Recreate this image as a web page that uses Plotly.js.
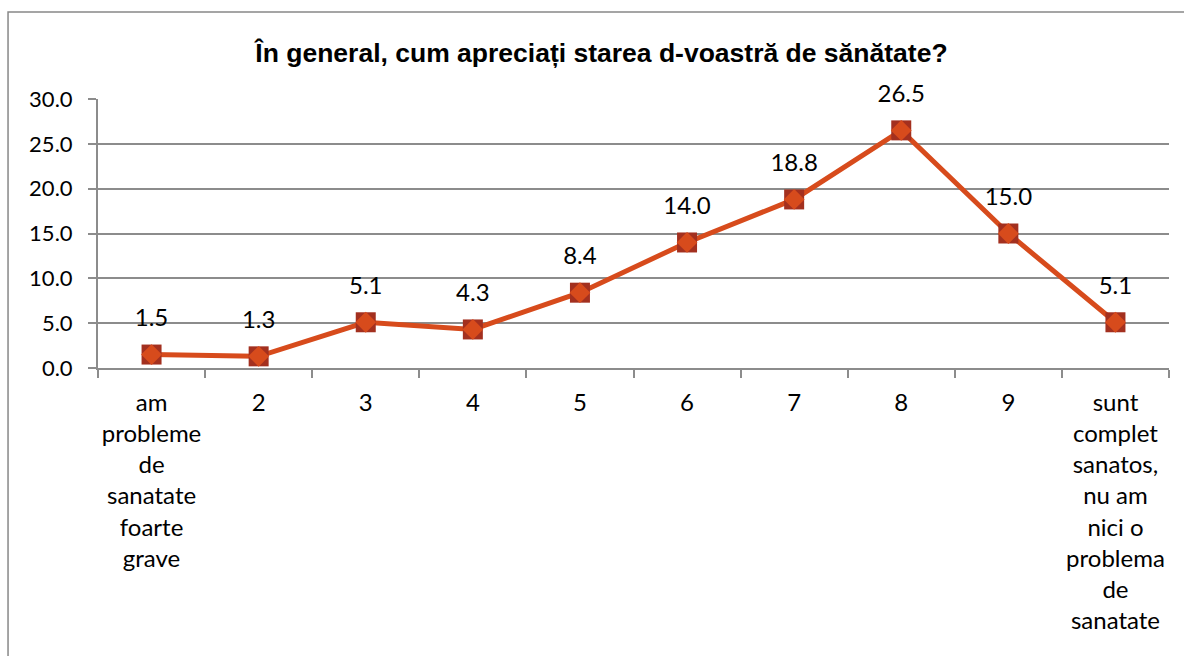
<!DOCTYPE html>
<html>
<head>
<meta charset="utf-8">
<script src="https://cdn.plot.ly/plotly-3.0.1.min.js"></script>
<style>
html,body{margin:0;padding:0;background:#fff;}
#chart{width:1184px;height:656px;}
</style>
</head>
<body>
<div id="chart"></div>
<script>
const titleText = "În general, cum apreciați starea d-voastră de sănătate?";
const categories = [
  "am<br>probleme<br>de<br>sanatate<br>foarte<br>grave",
  "2", "3", "4", "5", "6", "7", "8", "9",
  "sunt<br>complet<br>sanatos,<br>nu am<br>nici o<br>problema<br>de<br>sanatate"
];
const values = [1.5, 1.3, 5.1, 4.3, 8.4, 14.0, 18.8, 26.5, 15.0, 5.1];
const yTicks = [0, 5, 10, 15, 20, 25, 30];

const lineColor = "#D74B1C";
const squareColor = "#A3301F";
const gridColor = "#8C8C8C";
const bodyFont = "Lato, 'Open Sans', sans-serif";

const traces = [
  {
    x: categories, y: values, type: "scatter", mode: "lines+markers",
    line: {color: lineColor, width: 5},
    marker: {symbol: "square", size: 20, color: squareColor},
    hoverinfo: "skip", showlegend: false
  },
  {
    x: categories, y: values, type: "scatter", mode: "markers",
    marker: {symbol: "diamond", size: 16, color: lineColor},
    hoverinfo: "skip", showlegend: false
  },
  {
    x: categories, y: values, type: "scatter", mode: "markers+text",
    marker: {symbol: "square", size: 34, color: "rgba(0,0,0,0)"},
    text: values.map(v => v.toFixed(1)),
    textposition: "top center",
    textfont: {family: bodyFont, size: 24, color: "#000"},
    cliponaxis: false,
    hoverinfo: "skip", showlegend: false
  }
];

const layout = {
  width: 1184, height: 656,
  margin: {l: 98, r: 15, t: 99, b: 288},
  paper_bgcolor: "#fff", plot_bgcolor: "#fff",
  title: {
    text: "<b>" + titleText + "</b>",
    font: {family: "'Liberation Sans', Arial, sans-serif", size: 26.5, color: "#000"},
    x: 0.508, xanchor: "center", y: 0.92, yanchor: "middle"
  },
  xaxis: {
    type: "category",
    range: [-0.5, 9.5],
    showgrid: false, zeroline: false,
    showline: true, linecolor: gridColor, linewidth: 2,
    ticks: "outside", tickson: "boundaries", ticklen: 8, tickcolor: gridColor, tickwidth: 2,
    tickangle: 0, ticklabelstandoff: 12,
    tickfont: {family: bodyFont, size: 24, color: "#000"},
    fixedrange: true
  },
  yaxis: {
    range: [0, 30],
    tickvals: yTicks,
    tickformat: ".1f",
    showgrid: true, gridcolor: gridColor, gridwidth: 2,
    zeroline: false,
    showline: true, linecolor: gridColor, linewidth: 2,
    ticks: "outside", ticklen: 8, tickcolor: gridColor, tickwidth: 2,
    ticklabelstandoff: 11,
    tickfont: {family: bodyFont, size: 22, color: "#000"},
    fixedrange: true
  },
  shapes: [{
    type: "rect", xref: "paper", yref: "paper",
    x0: -0.084, x1: 1.03, y0: -1.2, y1: 1.3234,
    line: {color: "#888888", width: 1.5}, fillcolor: "rgba(0,0,0,0)", layer: "below"
  }]
};

Plotly.newPlot("chart", traces, layout, {displayModeBar: false, staticPlot: true});
</script>
</body>
</html>
